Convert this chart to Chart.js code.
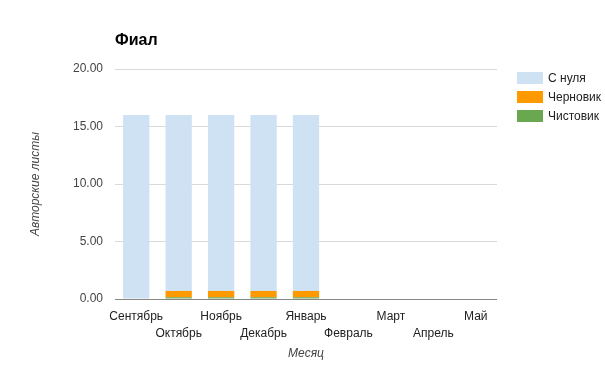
<!DOCTYPE html>
<html>
<head>
<meta charset="utf-8">
<script src="https://cdn.jsdelivr.net/npm/chart.js@4/dist/chart.umd.min.js"></script>
<style>
  html, body { margin: 0; padding: 0; background: #fff; }
  #wrap { position: relative; width: 605px; height: 365px; font-family: Arial, 'Liberation Sans', sans-serif; }
  #title { position: absolute; left: 115px; top: 31px; font-size: 16px; font-weight: bold; color: #000; }
  #legend { position: absolute; left: 517px; top: 68px; font-size: 12px; color: #222; }
  .leg-item { height: 19px; display: flex; align-items: center; }
  .leg-box { width: 26px; height: 12px; margin-right: 5px; }
</style>
</head>
<body>
<div id="wrap">
  <canvas id="chart" width="605" height="365"></canvas>
  <div id="title">Фиал</div>
  <div id="legend"></div>
</div>
<script>
// ===== ДАННЫЕ =====
const months   = ['Сентябрь', 'Октябрь', 'Ноябрь', 'Декабрь', 'Январь', 'Февраль', 'Март', 'Апрель', 'Май'];
const sNulya   = [16, 15.3, 15.3, 15.3, 15.3, 0, 0, 0, 0];
const chernov  = [0, 0.55, 0.55, 0.55, 0.55, 0, 0, 0, 0];
const chistov  = [0, 0.15, 0.15, 0.15, 0.15, 0, 0, 0, 0];
const yTicks   = [0, 5, 10, 15, 20];

const series = [
  { label: 'С нуля',   data: sNulya,  color: '#cfe2f3' },
  { label: 'Черновик', data: chernov, color: '#ff9900' },
  { label: 'Чистовик', data: chistov, color: '#6aa84f' }
];

// Легенда
const legend = document.getElementById('legend');
series.forEach(s => {
  legend.innerHTML += `<div class="leg-item"><span class="leg-box" style="background:${s.color}"></span>${s.label}</div>`;
});

// подписи в два ряда, как в оригинале
const labels = months.map((m, i) => i % 2 === 0 ? [m, ''] : ['', m]);

const font = { family: 'Arial, "Liberation Sans"', size: 12 };

new Chart(document.getElementById('chart'), {
  type: 'bar',
  data: {
    labels,
    // снизу вверх: Чистовик, Черновик, С нуля
    datasets: series.slice().reverse().map(s => ({
      label: s.label,
      data: s.data,
      backgroundColor: s.color,
      barPercentage: 0.62,
      categoryPercentage: 1
    }))
  },
  options: {
    responsive: false,
    animation: false,
    layout: { padding: { top: 69, right: 108, left: 0, bottom: 0 } },
    plugins: { legend: { display: false }, tooltip: { enabled: false } },
    scales: {
      x: {
        stacked: true,
        grid: { display: false },
        border: { display: false },
        ticks: { color: '#222', font: { ...font, lineHeight: 1.45 }, maxRotation: 0, autoSkip: false, padding: 1 },
        title: { display: true, text: 'Месяц', color: '#444', font: { ...font, style: 'italic' }, padding: { top: 8 } },
        afterFit: a => { a.height = 66; }
      },
      y: {
        stacked: true,
        min: 0,
        max: 20,
        afterBuildTicks: a => { a.ticks = yTicks.map(v => ({ value: v })); },
        grid: {
          color: c => c.tick && c.tick.value === 0 ? '#888' : '#d9d9d9',
          drawTicks: false
        },
        border: { display: false },
        ticks: { color: '#444', font, padding: 12, callback: v => v.toFixed(2) },
        title: { display: true, text: 'Авторские листы', color: '#444', font: { ...font, style: 'italic' }, padding: { top: 28 } },
        afterFit: a => { a.width = 115; }
      }
    }
  }
});
</script>
</body>
</html>
